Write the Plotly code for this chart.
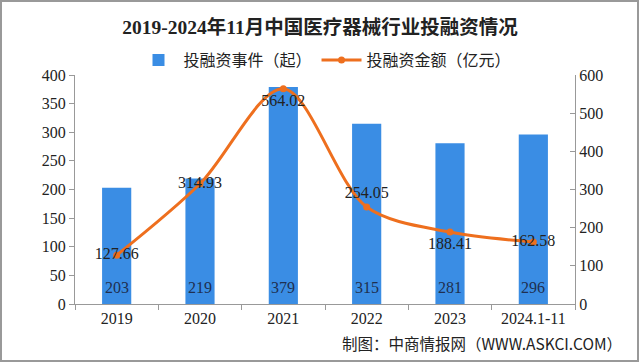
import plotly.graph_objects as go

categories = ["2019", "2020", "2021", "2022", "2023", "2024.1-11"]
events = [203, 219, 379, 315, 281, 296]
amounts = [127.66, 314.93, 564.02, 254.05, 188.41, 162.58]
amount_pos = ["middle center", "middle center", "bottom center", "top center", "bottom center", "middle center"]

num_font = "Liberation Serif, Noto Sans CJK SC"
cjk_font = "Noto Sans CJK SC, Liberation Serif"

fig = go.Figure()
fig.add_trace(go.Bar(
    x=categories, y=events, name="投融资事件（起）",
    marker=dict(color="#3a8de4", line=dict(width=0)),
))
fig.add_trace(go.Scatter(
    x=categories, y=amounts, name="投融资金额（亿元）", yaxis="y2",
    mode="lines+markers+text",
    line=dict(color="#ee6f1e", width=3, shape="spline", smoothing=0.9),
    marker=dict(color="#ee6f1e", size=7),
    text=[f"{v:.2f}" for v in amounts], textposition=amount_pos,
    textfont=dict(color="#222222", size=16, family=num_font),
    cliponaxis=False,
))

annotations = [dict(text=str(v), x=i, y=0, xref="x", yref="y", yanchor="middle",
                    yshift=17, showarrow=False,
                    font=dict(color="#1f3050", size=16, family=num_font))
               for i, v in enumerate(events)]
annotations.append(dict(text="制图：中商情报网（WWW.ASKCI.COM）", xref="paper", yref="paper",
                        x=(624 - 75) / 500, xanchor="right", y=-(343 - 304) / 229,
                        yanchor="middle", showarrow=False,
                        font=dict(size=15.5, color="#222222", family=cjk_font)))

fig.update_layout(
    width=640, height=363,
    margin=dict(l=75, r=65, t=75, b=59, autoexpand=False),
    paper_bgcolor="white", plot_bgcolor="white",
    title=dict(text="<b>2019-2024年11月中国医疗器械行业投融资情况</b>",
               x=0.5, xanchor="center", yref="container", y=1 - 27 / 363, yanchor="middle",
               font=dict(size=19.5, color="#222222", family="Liberation Serif, Noto Sans CJK SC")),
    legend=dict(orientation="h", x=0.5, xanchor="center", yref="container",
                y=1 - 60 / 363, yanchor="middle",
                font=dict(size=16, color="#222222", family=cjk_font),
                itemwidth=40, bgcolor="rgba(0,0,0,0)"),
    bargap=0.65,
    showlegend=True,
    xaxis=dict(type="category", showline=True, linecolor="#999999", linewidth=1,
               ticks="outside", tickson="boundaries", ticklen=5, tickcolor="#999999",
               tickfont=dict(size=16, color="#222222", family=num_font), showgrid=False),
    yaxis=dict(range=[0, 400], dtick=50, showline=True, linecolor="#999999", linewidth=1,
               ticks="outside", ticklen=5, tickcolor="#999999", showgrid=False,
               tickfont=dict(size=16, color="#222222", family=num_font), zeroline=False),
    yaxis2=dict(range=[0, 600], dtick=100, overlaying="y", side="right",
                showline=True, linecolor="#999999", linewidth=1,
                ticks="inside", ticklen=5, tickcolor="#999999", showgrid=False,
                tickfont=dict(size=16, color="#222222", family=num_font), zeroline=False),
    annotations=annotations,
    shapes=[dict(type="rect", xref="paper", yref="paper",
                 x0=(1 - 75) / 500, x1=(638 - 75) / 500,
                 y0=(304 - 361) / 229, y1=(304 - 1) / 229,
                 line=dict(color="#999999", width=2))],
)

fig.write_html("out.html", config={"displayModeBar": False},
               post_script="document.body.style.margin='0';")
